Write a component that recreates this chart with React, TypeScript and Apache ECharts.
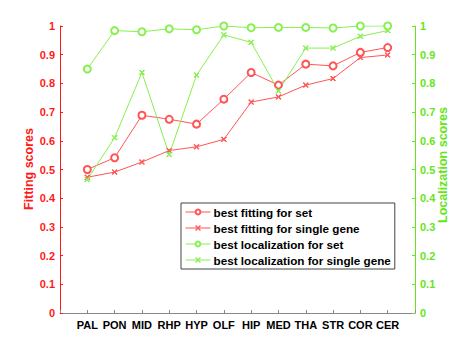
import React, { useEffect, useRef } from "react";
import * as echarts from "echarts";

const categories = ["PAL", "PON", "MID", "RHP", "HYP", "OLF", "HIP", "MED", "THA", "STR", "COR", "CER"];
const fittingSet = [0.5, 0.541, 0.689, 0.675, 0.658, 0.745, 0.838, 0.794, 0.867, 0.861, 0.908, 0.925];
const fittingSingle = [0.473, 0.491, 0.526, 0.566, 0.579, 0.605, 0.735, 0.753, 0.794, 0.817, 0.89, 0.899];
const locSet = [0.85, 0.984, 0.98, 0.99, 0.987, 1.0, 0.994, 0.995, 0.995, 0.993, 1.0, 1.0];
const locSingle = [0.465, 0.611, 0.838, 0.552, 0.829, 0.969, 0.943, 0.774, 0.923, 0.923, 0.964, 0.984];
const yTicks = [0, 0.1, 0.2, 0.3, 0.4, 0.5, 0.6, 0.7, 0.8, 0.9, 1];

const RED = "#ff1a1a";
const RED_LINE = "#ff5555";
const GREEN = "#66e61a";
const GREEN_LINE = "#88f050";
const FONT = "Liberation Sans";
const XMARK = "path://M0,1L1,0L5,4L9,0L10,1L6,5L10,9L9,10L5,6L1,10L0,9L4,5Z";

export default function App() {
  const ref = useRef<HTMLDivElement>(null);
  useEffect(() => {
    if (!ref.current) return;
    const chart = echarts.init(ref.current, undefined, { renderer: "svg" });
    const toPts = (arr: number[]) => arr.map((v, i) => [i + 1, v]);
    const mk = (name: string, data: number[], color: string, symbol: string, size: number, yIdx: number) => ({
      name,
      type: "line",
      yAxisIndex: yIdx,
      data: toPts(data),
      symbol,
      symbolSize: size,
      showAllSymbol: true,
      lineStyle: { color, width: 1 },
      itemStyle: { color, borderColor: color, borderWidth: 1 },
    });
    const yAxisBase = (color: string, pos: "left" | "right") => ({
      type: "value",
      position: pos,
      min: 0,
      max: 1,
      interval: 0.1,
      axisLine: { show: true, onZero: false, lineStyle: { color, width: 1 } },
      axisTick: { show: true, inside: true, length: 3, lineStyle: { color } },
      splitLine: { show: false },
      axisLabel: {
        color,
        fontFamily: FONT,
        fontWeight: "bold",
        fontSize: 11,
        margin: 5,
        formatter: (v: number) => {
          const t = yTicks.find((x) => Math.abs(x - v) < 1e-6);
          return t === undefined ? "" : String(t);
        },
      },
    });
    chart.setOption({
      animation: false,
      backgroundColor: "#ffffff",
      grid: { left: 60, right: 42, top: 26, bottom: 39 },
      xAxis: {
        type: "value",
        min: 0,
        max: 13,
        interval: 1,
        axisLine: { show: true, onZero: false, lineStyle: { color: "#888888" } },
        axisTick: { show: true, inside: true, length: 3, lineStyle: { color: "#888888" } },
        splitLine: { show: false },
        axisLabel: {
          color: "#000",
          fontFamily: FONT,
          fontWeight: "bold",
          fontSize: 11,
          margin: 6,
          formatter: (v: number) => {
            const i = Math.round(v) - 1;
            return i >= 0 && i < categories.length ? categories[i] : "";
          },
        },
      },
      yAxis: [yAxisBase(RED, "left"), yAxisBase(GREEN, "right")],
      legend: {
        orient: "vertical",
        left: 181,
        top: 203,
        itemWidth: 25,
        itemHeight: 6,
        itemGap: 4,
        padding: [3, 4, 3, 4],
        borderColor: "#444",
        borderWidth: 1,
        backgroundColor: "#fff",
        borderRadius: 0,
        lineStyle: { width: 1 },
        itemStyle: { borderWidth: 1 },
        textStyle: { color: "#000", fontFamily: FONT, fontWeight: "bold", fontSize: 11.7, padding: [0, 0, 0, -2] },
        data: [
          "best fitting for set",
          "best fitting for single gene",
          "best localization for set",
          "best localization for single gene",
        ],
      },
      graphic: [
        {
          type: "text",
          x: 29,
          y: 169,
          rotation: Math.PI / 2,
          style: {
            text: "Fitting scores",
            fill: RED,
            font: `bold 12.5px "${FONT}"`,
            align: "center",
            verticalAlign: "middle",
          },
        },
        {
          type: "text",
          x: 443,
          y: 165,
          rotation: Math.PI / 2,
          style: {
            text: "Localization scores",
            fill: GREEN,
            font: `bold 12.5px "${FONT}"`,
            align: "center",
            verticalAlign: "middle",
          },
        },
      ],
      series: [
        mk("best fitting for set", fittingSet, RED_LINE, "emptyCircle", 7, 0),
        mk("best fitting for single gene", fittingSingle, RED_LINE, XMARK, 5, 0),
        mk("best localization for set", locSet, GREEN_LINE, "emptyCircle", 7, 1),
        mk("best localization for single gene", locSingle, GREEN_LINE, XMARK, 5, 1),
      ],
    });
    return () => chart.dispose();
  }, []);
  return <div ref={ref} style={{ width: 457, height: 352, position: "absolute", left: 0, top: 0 }} />;
}
